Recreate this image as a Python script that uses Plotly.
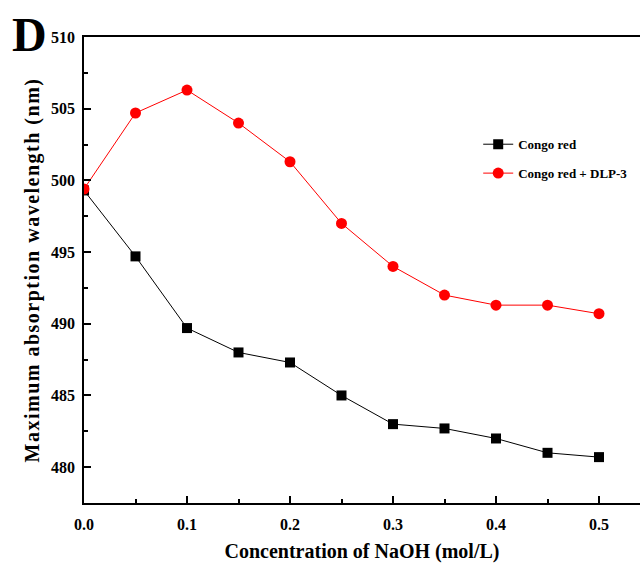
import plotly.graph_objects as go

naoh = [0.0, 0.05, 0.1, 0.15, 0.2, 0.25, 0.3, 0.35, 0.4, 0.45, 0.5]
congo_red = [499.3, 494.7, 489.7, 488.0, 487.3, 485.0, 483.0, 482.7, 482.0, 481.0, 480.7]
congo_dlp3 = [499.4, 504.7, 506.3, 504.0, 501.3, 497.0, 494.0, 492.0, 491.3, 491.3, 490.7]
x_ticks = [0.0, 0.1, 0.2, 0.3, 0.4, 0.5]
y_ticks = [480, 485, 490, 495, 500, 505, 510]

FONT = "Liberation Serif"

fig = go.Figure()
fig.add_trace(go.Scatter(x=naoh, y=congo_red, mode="lines+markers", name="<b>Congo red</b>",
                         legendgroup="a",
                         line=dict(color="black", width=1),
                         marker=dict(symbol="square", size=10, color="black")))
fig.add_trace(go.Scatter(x=naoh, y=congo_dlp3, mode="lines+markers", name="<b>Congo red + DLP-3</b>",
                         legendgroup="b",
                         line=dict(color="red", width=1),
                         marker=dict(symbol="circle", size=11, color="red")))

fig.update_layout(
    width=640, height=563,
    margin=dict(l=84, r=0, t=37, b=60),
    plot_bgcolor="white", paper_bgcolor="white",
    font=dict(family=FONT, color="black"),
    showlegend=True,
    legend=dict(x=0.709, y=0.802, xanchor="left", yanchor="top",
                font=dict(family=FONT, size=13, color="black"),
                bgcolor="rgba(0,0,0,0)", tracegroupgap=9, itemwidth=30),
    xaxis=dict(range=[0, 0.5398], tickvals=x_ticks, ticktext=[f"<b>{v:.1f}</b>" for v in x_ticks],
               ticks="inside", ticklen=7, tickwidth=1.5, tickcolor="black",
               minor=dict(dtick=0.05, ticks="inside", ticklen=4, tickcolor="black", tickwidth=1.5),
               showline=True, linecolor="black", linewidth=1.8, mirror=True,
               showgrid=False, zeroline=False, ticklabelstandoff=6,
               tickfont=dict(family=FONT, size=16, color="black"),
               title=dict(text="<b>Concentration of NaOH (mol/L)</b>", font=dict(family=FONT, size=20), standoff=14)),
    yaxis=dict(range=[477.5, 510], tickvals=y_ticks, ticktext=[f"<b>{v}</b>" for v in y_ticks],
               ticks="inside", ticklen=7, tickwidth=1.5, tickcolor="black",
               minor=dict(dtick=2.5, ticks="inside", ticklen=4, tickcolor="black", tickwidth=1.5),
               showline=True, linecolor="black", linewidth=1.8, mirror=False,
               showgrid=False, zeroline=False, ticklabelstandoff=4,
               tickfont=dict(family=FONT, size=16, color="black"),
               title=dict(text="<b><span style=\"letter-spacing:1.5px\">Maximum absorption wavelength (nm)</span></b>",
                          font=dict(family=FONT, size=20), standoff=6)),
)
fig.add_annotation(text="<b>D</b>", xref="paper", yref="paper", x=-0.133, y=1.005,
                   xanchor="left", yanchor="middle", showarrow=False,
                   font=dict(family=FONT, size=48, color="black"))
fig.write_html("out.html", config={"displayModeBar": False},
               post_script="document.body.style.margin='0';")
